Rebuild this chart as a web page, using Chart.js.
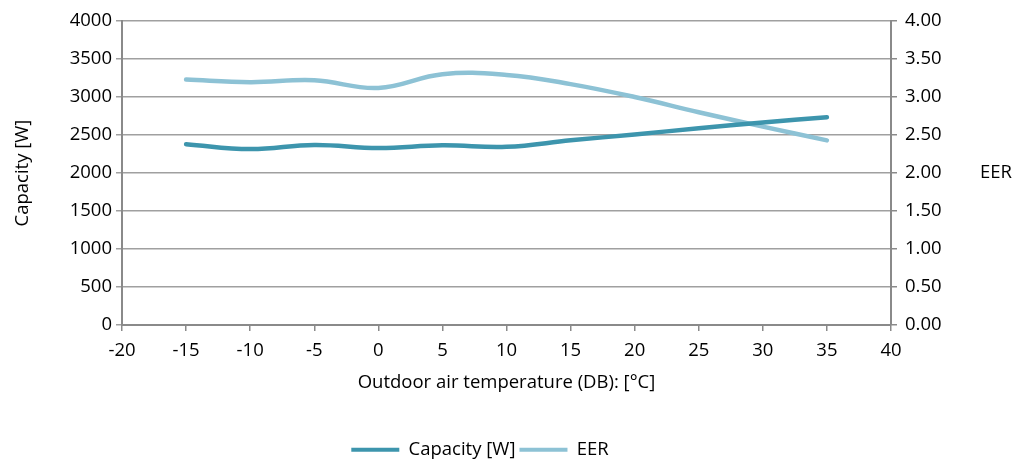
<!DOCTYPE html>
<html><head><meta charset="utf-8">
<script src="https://cdn.jsdelivr.net/npm/chart.js@4/dist/chart.umd.min.js"></script>
<style>html,body{margin:0;padding:0;background:#fff}#wrap{width:1018px;height:466px}</style>
</head><body><div id="wrap"><canvas id="c" width="1018" height="466"></canvas></div>
<script>
const temperatures = [-15, -10, -5, 0, 5, 10, 15, 20, 25, 30, 35];
const capacityW = [2380, 2315, 2370, 2330, 2365, 2345, 2430, 2508, 2588, 2665, 2735];
const eer = [3.23, 3.195, 3.22, 3.12, 3.30, 3.29, 3.17, 3.00, 2.80, 2.61, 2.43];
const xTickStep = 5, xMin = -20, xMax = 40;
const capTicks = [0, 4000, 500];
const eerTicks = [0, 4, 0.5];

const FONT = "'Open Sans', Lato, sans-serif";
const FS = 18.5;
const AXIS = '#8a8a8a', GRID = '#a0a0a0';
const CAP_COLOR = '#3d95ad', EER_COLOR = '#8dc2d5';

const eerLabel = {
  id: 'eerLabel',
  beforeDraw(chart) {
    const lg = chart.legend;
    if (lg && !lg._shifted) {
      lg.top += 3; lg.bottom += 3; lg.left -= 35; lg.right -= 35; lg._shifted = true;
    }
  },
  afterDraw(chart) {
    const ctx = chart.ctx, y = chart.scales.y2;
    ctx.save();
    ctx.font = FS + 'px ' + FONT;
    ctx.fillStyle = '#000';
    ctx.textAlign = 'left';
    ctx.textBaseline = 'middle';
    ctx.fillText('EER', 980, y.getPixelForValue(2.0));
    ctx.restore();
  }
};

new Chart(document.getElementById('c'), {
  type: 'line',
  data: {
    datasets: [
      { label: 'Capacity [W]', data: temperatures.map((t, i) => ({x: t, y: capacityW[i]})),
        borderColor: CAP_COLOR, backgroundColor: CAP_COLOR, borderWidth: 4.5, pointRadius: 0,
        tension: 0.4, yAxisID: 'y', borderCapStyle: 'round' },
      { label: 'EER', data: temperatures.map((t, i) => ({x: t, y: eer[i]})),
        borderColor: EER_COLOR, backgroundColor: EER_COLOR, borderWidth: 4.5, pointRadius: 0,
        tension: 0.4, yAxisID: 'y2', borderCapStyle: 'round' }
    ]
  },
  options: {
    responsive: false, animation: false,
    layout: { padding: { top: 21, left: 12, right: 0, bottom: 0 } },
    plugins: {
      tooltip: { enabled: false },
      legend: {
        position: 'bottom',
        labels: {
          font: { family: FONT, size: FS }, color: '#000', boxWidth: 48, boxHeight: 4, padding: 4,
          generateLabels(chart) {
            return chart.data.datasets.map((d, i) => ({
              text: d.label, fillStyle: d.borderColor, strokeStyle: d.borderColor, lineWidth: 0,
              fontColor: '#000', datasetIndex: i, hidden: false
            }));
          }
        }
      }
    },
    scales: {
      x: {
        type: 'linear', min: xMin, max: xMax,
        ticks: { stepSize: xTickStep, color: '#000', font: { family: FONT, size: FS }, padding: 9, maxRotation: 0 },
        grid: { drawOnChartArea: false, drawTicks: true, tickLength: 6, color: AXIS, lineWidth: 1.5 },
        border: { color: AXIS, width: 2 },
        title: { display: true, text: 'Outdoor air temperature (DB): [°C]', color: '#000', font: { family: FONT, size: FS }, padding: { top: 0, bottom: 40 } }
      },
      y: {
        position: 'left', min: capTicks[0], max: capTicks[1],
        ticks: { stepSize: capTicks[2], color: '#000', font: { family: FONT, size: FS }, padding: 4,
                 callback: v => String(v) },
        grid: { color: GRID, lineWidth: 1.5, tickLength: 6 },
        border: { color: AXIS, width: 2 },
        title: { display: true, text: 'Capacity [W]', color: '#000', font: { family: FONT, size: FS }, padding: 0 },
        afterFit(s) { s.width = 110; }
      },
      y2: {
        position: 'right', min: eerTicks[0], max: eerTicks[1],
        ticks: { stepSize: eerTicks[2], color: '#000', font: { family: FONT, size: FS }, padding: 8,
                 callback: v => Number(v).toFixed(2) },
        grid: { drawOnChartArea: false, tickLength: 6, color: AXIS, lineWidth: 1.5 },
        border: { color: AXIS, width: 2 },
        afterFit(s) { s.width = 127; }
      }
    }
  },
  plugins: [eerLabel]
});
</script></body></html>
